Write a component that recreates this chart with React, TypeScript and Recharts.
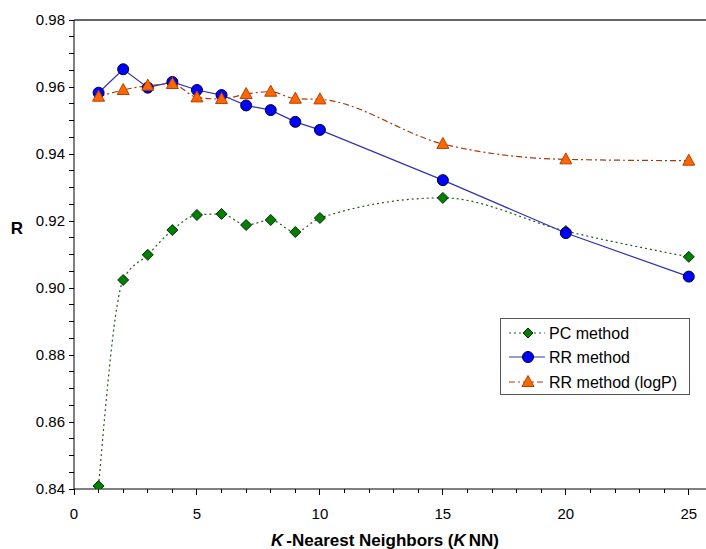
import React from 'react';
import { LineChart, Line, XAxis, YAxis, ReferenceLine, Legend, Label } from 'recharts';

const kValues = [1, 2, 3, 4, 5, 6, 7, 8, 9, 10, 15, 20, 25];
const pcMethod = [0.8409, 0.9024, 0.9099, 0.9173, 0.9218, 0.9221, 0.9188, 0.9203, 0.9167, 0.9209, 0.9269, 0.917, 0.9093];
const rrMethod = [0.9583, 0.9653, 0.9598, 0.9615, 0.9591, 0.9576, 0.9545, 0.9531, 0.9496, 0.9472, 0.9322, 0.9164, 0.9034];
const rrLogP = [0.9571, 0.9591, 0.9604, 0.9609, 0.9569, 0.9564, 0.9579, 0.9586, 0.9565, 0.9563, 0.943, 0.9384, 0.938];

const xTickValues = [0, 1, 2, 3, 4, 5, 6, 7, 8, 9, 10, 11, 12, 13, 14, 15, 16, 17, 18, 19, 20, 21, 22, 23, 24, 25];
const xTickLabels = ['0', '5', '10', '15', '20', '25'];
const yTickLabels = ['0.84', '0.86', '0.88', '0.90', '0.92', '0.94', '0.96', '0.98'];
const seriesNames = ['PC method', 'RR method', 'RR method (logP)'];

const yTickValues: number[] = [];
for (let i = 0; i <= 28; i++) yTickValues.push(Math.round((0.84 + i * 0.005) * 1000) / 1000);

const data = kValues.map((k, i) => ({ k, pc: pcMethod[i], rr: rrMethod[i], logp: rrLogP[i] }));

const FONT = '"Liberation Sans", Arial, sans-serif';

const XTick = (props: any) => {
  const { x, y, payload } = props;
  const v = payload.value;
  const label = String(v);
  const major = xTickLabels.includes(label);
  return (
    <g>
      <line x1={x} y1={y} x2={x} y2={y + (major ? 6 : 4)} stroke="#000" strokeWidth={1} shapeRendering="crispEdges" />
      {major && (
        <text x={x} y={y + 30} textAnchor="middle" fontSize={15} fontFamily={FONT} fill="#000">
          {label}
        </text>
      )}
    </g>
  );
};

const YTick = (props: any) => {
  const { x, y, payload } = props;
  const v = payload.value;
  const idx = Math.round((v - 0.84) / 0.005);
  const major = idx % 4 === 0;
  return (
    <g>
      <line x1={x - 5} y1={y} x2={x} y2={y} stroke="#000" strokeWidth={1} shapeRendering="crispEdges" />
      {major && (
        <text x={x - 9} y={y + 5} textAnchor="end" fontSize={15} fontFamily={FONT} fill="#000">
          {yTickLabels[idx / 4]}
        </text>
      )}
    </g>
  );
};

const diamondPath = (cx: number, cy: number, r: number) =>
  `M${cx},${cy - r}L${cx + r},${cy}L${cx},${cy + r}L${cx - r},${cy}Z`;
const trianglePath = (cx: number, cy: number) =>
  `M${cx},${cy - 6.5}L${cx + 6},${cy + 4.5}L${cx - 6},${cy + 4.5}Z`;

const DiamondDot = (p: any) => {
  const { cx, cy } = p;
  if (cx == null || cy == null) return <g />;
  return <path d={diamondPath(cx, cy, 5.5)} fill="#008000" stroke="#0b2a0b" strokeWidth={1} />;
};
const CircleDot = (p: any) => {
  const { cx, cy } = p;
  if (cx == null || cy == null) return <g />;
  return <circle cx={cx} cy={cy} r={5.5} fill="#0000ff" stroke="#000033" strokeWidth={1} />;
};
const TriangleDot = (p: any) => {
  const { cx, cy } = p;
  if (cx == null || cy == null) return <g />;
  return <path d={trianglePath(cx, cy)} fill="#ff6600" stroke="#b84000" strokeWidth={1} />;
};

const GREEN_LINE = '#1f5e1f';
const BLUE_LINE = '#3333aa';
const ORANGE_LINE = '#a53a0c';

const renderLegend = () => {
  const rows = [15, 39, 64];
  return (
    <svg width={191} height={78} style={{ display: 'block' }}>
      <rect x={0.5} y={0.5} width={189} height={76} fill="#fff" stroke="#555" strokeWidth={1} />
      <line x1={9} y1={rows[0]} x2={45} y2={rows[0]} stroke={GREEN_LINE} strokeDasharray="2 3" />
      <path d={diamondPath(28, rows[0], 5)} fill="#008000" stroke="#0b2a0b" />
      <text x={49} y={rows[0] + 6} fontSize={16} fontFamily={FONT} fill="#000">{seriesNames[0]}</text>
      <line x1={9} y1={rows[1]} x2={45} y2={rows[1]} stroke={BLUE_LINE} />
      <circle cx={28} cy={rows[1]} r={5.5} fill="#0000ff" stroke="#000033" />
      <text x={49} y={rows[1] + 6} fontSize={16} fontFamily={FONT} fill="#000">{seriesNames[1]}</text>
      <line x1={9} y1={rows[2]} x2={45} y2={rows[2]} stroke={ORANGE_LINE} strokeDasharray="6 3 2 3" />
      <path d={trianglePath(28, rows[2])} fill="#ff6600" stroke="#b84000" />
      <text x={49} y={rows[2] + 6} fontSize={16} fontFamily={FONT} fill="#000">{seriesNames[2]}</text>
    </svg>
  );
};

const XTitle = (props: any) => {
  const vb = props.viewBox || { x: 74, width: 632 };
  const cx = vb.x + vb.width / 2 - 5;
  return (
    <text x={cx} y={546} textAnchor="middle" fontSize={17} fontWeight="bold" fontFamily={FONT} fill="#000">
      <tspan fontStyle="italic">K</tspan>
      <tspan dx={3}>-Nearest Neighbors (</tspan>
      <tspan fontStyle="italic">K</tspan>
      <tspan dx={3}>NN)</tspan>
    </text>
  );
};

const YTitle = () => (
  <text x={17} y={234} textAnchor="middle" fontSize={17} fontWeight="bold" fontFamily={FONT} fill="#000">
    R
  </text>
);

export default function App() {
  return (
    <div style={{ position: 'absolute', left: 0, top: 0, width: 706, height: 549, background: '#fff' }}>
      <LineChart width={706} height={549} data={data} margin={{ top: 20, right: 0, bottom: 0, left: 0 }}>
        <XAxis
          type="number"
          dataKey="k"
          domain={[0, 25.7]}
          allowDataOverflow
          ticks={xTickValues}
          interval={0}
          height={60}
          tickSize={0}
          tickMargin={0}
          tick={<XTick />}
          axisLine={{ stroke: '#000', strokeWidth: 1 }}
          tickLine={false}
        >
          <Label content={<XTitle />} />
        </XAxis>
        <YAxis
          type="number"
          domain={[0.84, 0.98]}
          allowDataOverflow
          ticks={yTickValues}
          interval={0}
          width={74}
          tickSize={0}
          tickMargin={0}
          tick={<YTick />}
          axisLine={{ stroke: '#000', strokeWidth: 1 }}
          tickLine={false}
        >
          <Label content={<YTitle />} />
        </YAxis>
        <ReferenceLine y={0.98} stroke="#333" strokeWidth={1.5} />
        <Line
          type="monotone"
          dataKey="pc"
          name={seriesNames[0]}
          stroke={GREEN_LINE}
          strokeWidth={1.2}
          strokeDasharray="2 3"
          dot={(p: any) => <DiamondDot key={`pc-${p.index}`} {...p} />}
          activeDot={false}
          isAnimationActive={false}
        />
        <Line
          type="linear"
          dataKey="rr"
          name={seriesNames[1]}
          stroke={BLUE_LINE}
          strokeWidth={1.2}
          dot={(p: any) => <CircleDot key={`rr-${p.index}`} {...p} />}
          activeDot={false}
          isAnimationActive={false}
        />
        <Line
          type="monotone"
          dataKey="logp"
          name={seriesNames[2]}
          stroke={ORANGE_LINE}
          strokeWidth={1.2}
          strokeDasharray="6 3 2 3"
          dot={(p: any) => <TriangleDot key={`lp-${p.index}`} {...p} />}
          activeDot={false}
          isAnimationActive={false}
        />
        <Legend
          layout="vertical"
          align="center"
          verticalAlign="middle"
          wrapperStyle={{ left: 500, top: 318, width: 191, height: 78 }}
          content={renderLegend}
        />
      </LineChart>
    </div>
  );
}
